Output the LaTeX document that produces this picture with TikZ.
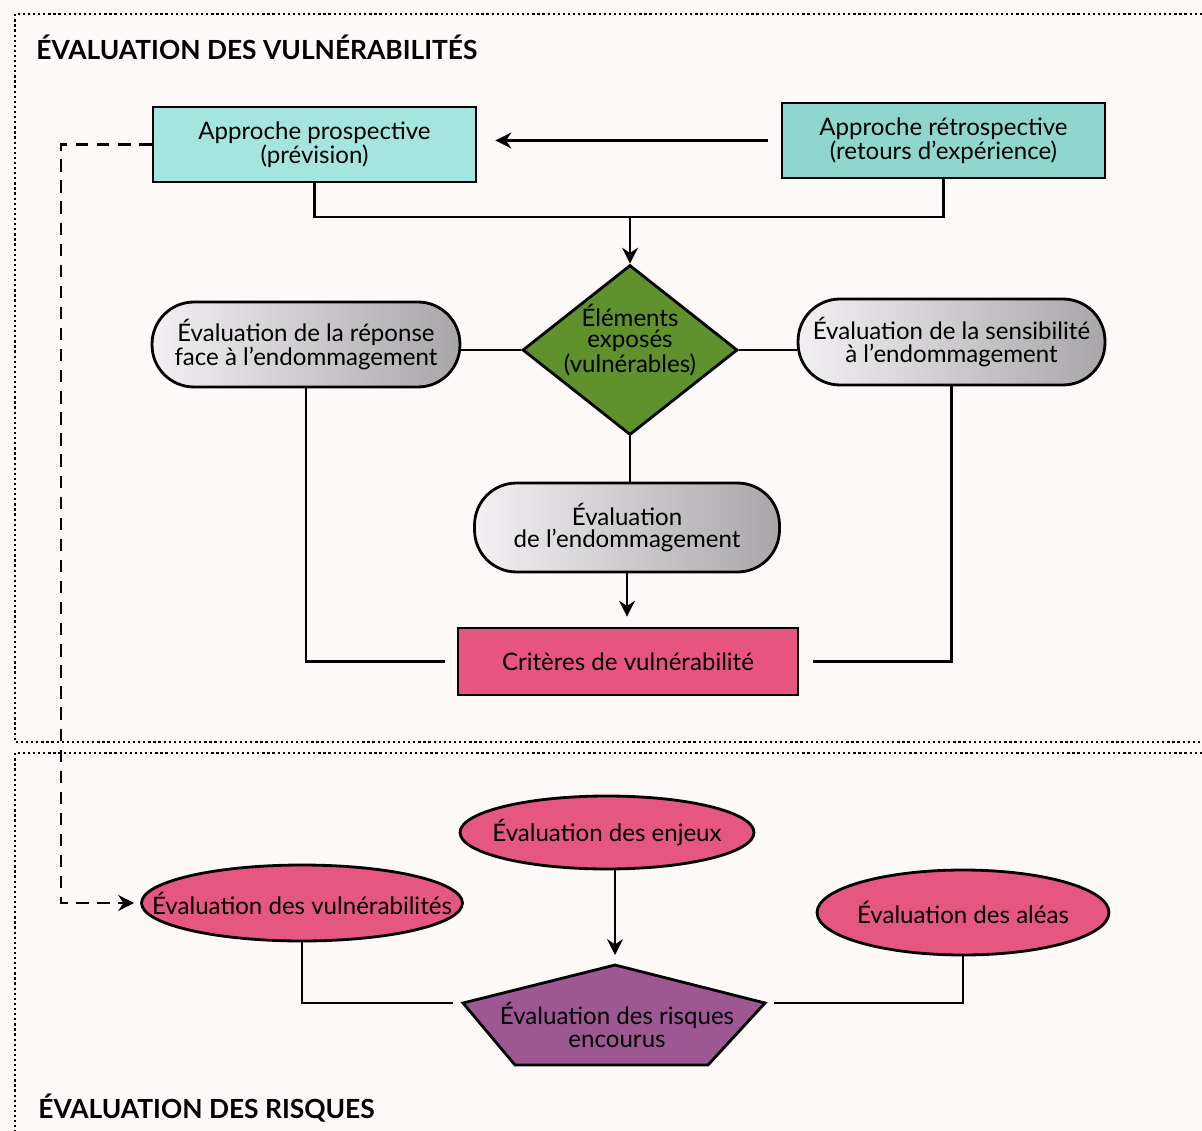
\documentclass[tikz,border=0pt]{standalone}
\usepackage{fontspec}
\setmainfont{Lato}
\usepackage{tikz}
\usetikzlibrary{positioning}
\usetikzlibrary{shapes.geometric}
\usetikzlibrary{arrows.meta}
\definecolor{prospcol}{RGB}{164,229,223}
\definecolor{retrocol}{RGB}{142,214,206}
\definecolor{elemcol}{RGB}{95,145,44}
\definecolor{pillL}{RGB}{242,240,242}
\definecolor{pillR}{RGB}{168,166,169}
\definecolor{critcol}{RGB}{232,84,128}
\definecolor{ellcol}{RGB}{229,86,128}
\definecolor{risqcol}{RGB}{157,87,147}
\definecolor{pagecol}{RGB}{253,249,249}
\tikzset{>={Stealth[length=9pt,width=9pt]}}

\begin{document}
\begin{tikzpicture}[x=0.02cm, y=-0.02cm,
  every node/.style={font=\fontsize{13.7}{12.6}\selectfont, align=center},
  lien/.style={line width=1.6pt},
  titre/.style={font=\bfseries\fontsize{15}{16}\selectfont, anchor=west, inner sep=0pt},
  boite/.style={draw, line width=1.6pt, minimum width=6.46cm, minimum height=1.5cm},
  pill/.style={draw, line width=1.6pt, rounded corners=0.84cm, left color=pillL, right color=pillR, inner sep=0pt},
  ell/.style={ellipse, draw, line width=1.6pt, fill=ellcol, inner sep=0pt}
]

% ================= Page and frames =================
\useasboundingbox[fill=pagecol] (0,0) rectangle (1202,1131);
\draw[line width=1.3pt, dash pattern=on 1.3pt off 1.6pt]
  (1202,14) -- (15,14) -- (15,742) -- (1202,742);
\draw[line width=1.3pt, dash pattern=on 1.3pt off 1.6pt]
  (1202,753) -- (15,753) -- (15,1131);

\node[titre] (titrevul) at (36,47) {ÉVALUATION DES VULNÉRABILITÉS};
\node[titre] (titrerisq) at (38,1108) {ÉVALUATION DES RISQUES};

% ================= Approaches =================
\node[boite, fill=prospcol] (prosp) at (314.5,144.5) {Approche prospective\\(prévision)};
\node[boite, fill=retrocol] (retro) at (943.5,140.5) {Approche rétrospective\\(retours d’expérience)};

\draw[lien, ->, shorten <=0.26cm, shorten >=0.36cm] (retro.west) -- (retro.west -| prosp.east);

\coordinate (junc) at (630,217);
\draw[lien] (prosp.south) |- (junc) -| (retro.south);

% ================= Exposed elements =================
\node[diamond, draw, line width=1.6pt, fill=elemcol, inner sep=0pt,
  minimum width=4.3cm, minimum height=3.4cm,
  label={[yshift=0.2cm, font=\fontsize{13.7}{12.2}\selectfont]center:Éléments\\exposés\\(vulnérables)}]
  (elem) at (630,350) {};

\draw[lien, ->] (junc) -- (elem.north);

\node[pill, minimum width=6.16cm, minimum height=1.7cm] (reponse) at (306,344.5)
  {Évaluation de la réponse\\face à l’endommagement};
\node[pill, minimum width=6.14cm, minimum height=1.72cm] (sensib) at (951.5,342)
  {Évaluation de la sensibilité\\à l’endommagement};
\node[pill, minimum width=6.1cm, minimum height=1.78cm] (endom) at (627,527.5)
  {Évaluation\\de l’endommagement};

\draw[lien] (elem.west) -- (elem.west -| reponse.east);
\draw[lien] (elem.east) -- (elem.east -| sensib.west);
\draw[lien] (elem.south) -- (elem.south |- endom.north);

% ================= Criteria =================
\node[draw, line width=1.6pt, fill=critcol, minimum width=6.8cm, minimum height=1.34cm]
  (critere) at (628,661.5) {Critères de vulnérabilité};

\draw[lien, ->, shorten >=0.2cm] (endom.south) -- (endom.south |- critere.north);
\draw[lien, shorten >=0.24cm] (reponse.south) |- (critere.west);
\draw[lien, shorten >=0.28cm] (sensib.south) |- (critere.east);

% ================= Risk assessment =================
\node[ell, minimum width=5.88cm, minimum height=1.46cm,
  label={center:Évaluation des enjeux}] (enjeux) at (607,832.5) {};
\node[ell, minimum width=6.42cm, minimum height=1.52cm,
  label={center:Évaluation des vulnérabilités}] (vuln) at (302,903) {};
\node[ell, minimum width=5.84cm, minimum height=1.7cm,
  label={center:Évaluation des aléas}] (aleas) at (963,912.5) {};

\coordinate (risqT) at (615,965);
\coordinate (risqR) at (765,1003);
\coordinate (risqBR) at (708,1065);
\coordinate (risqBL) at (515,1065);
\coordinate (risqL) at (463,1003);
\draw[line width=1.6pt, fill=risqcol]
  (risqT) -- (risqR) -- (risqBR) -- (risqBL) -- (risqL) -- cycle;
\node (risque) at (617,1025) {Évaluation des risques\\encourus};

\draw[lien, ->, shorten >=0.2cm] (enjeux.south -| risqT) -- (risqT);
\draw[lien, shorten >=0.2cm] (vuln.south) |- (risqL);
\draw[lien, shorten >=0.18cm] (aleas.south) |- (risqR);

% dashed link from the prospective approach
\coordinate (coude) at (61,500);
\draw[lien, dash pattern=on 7pt off 5pt, ->, shorten >=0.12cm]
  (prosp.west) -| (coude) |- (vuln.west);
\end{tikzpicture}
\end{document}
